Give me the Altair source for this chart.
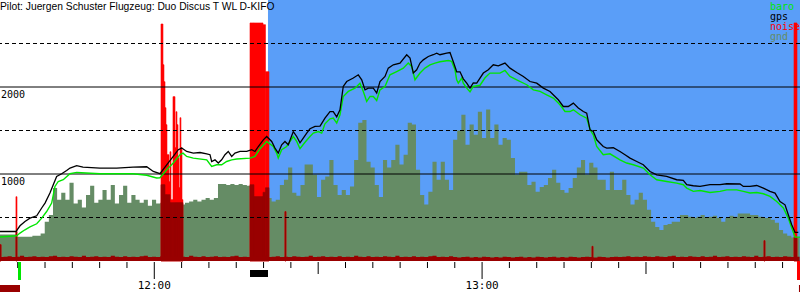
import altair as alt
import pandas as pd

TITLE = "Pilot: Juergen Schuster Flugzeug: Duo Discus T WL D-KIFO"

BLUE = "#5a9ef8"
GND = "#658c65"
RED = "#ff0000"
DARK_RED = "#990000"
GREEN = "#00e600"
BLACK = "#000000"

# time axis: minutes after 11:00
X_DOMAIN = [31.76, 178.19]
Y_DOMAIN = [0, 3000]

gps_t = [31.75, 34.68, 35.42, 36.33, 37.25, 38.48, 39.39, 40.00, 40.90, 41.51,
         42.13, 43.05, 43.96, 44.57, 45.80, 46.95, 50.06, 53.12, 56.11, 58.61,
         59.82, 61.04, 62.27, 63.47, 64.39, 65.02, 65.93, 67.14, 68.37, 69.60,
         70.20, 70.50, 71.11, 71.71, 72.33, 72.94, 73.54, 74.17, 74.77, 75.69,
         76.92, 77.83, 78.43, 79.04, 79.96, 80.57, 81.49, 82.09, 82.69, 83.32,
         83.92, 84.53, 85.44, 86.07, 86.67, 87.27, 87.90, 88.50, 89.42, 90.34,
         91.24, 92.16, 92.76, 93.39, 93.99, 94.59, 95.22, 96.43, 97.34, 97.97,
         98.57, 99.17, 100.09, 100.71, 101.31, 102.23, 102.83, 103.75, 104.97, 106.20,
         106.81, 107.41, 108.03, 108.64, 109.24, 110.16, 111.07, 111.69, 112.29, 113.52,
         114.13, 114.73, 115.35, 115.96, 116.56, 117.19, 117.79, 118.39, 119.02, 120.23,
         121.14, 122.05, 122.96, 124.19, 125.11, 126.34, 127.55, 128.77, 130.00, 131.21,
         132.43, 133.95, 134.86, 135.78, 136.70, 137.61, 138.53, 139.15, 139.76, 140.36,
         140.98, 142.18, 142.81, 144.02, 145.24, 146.16, 147.08, 148.31, 149.51, 150.74,
         151.96, 153.79, 155.62, 156.83, 157.46, 158.66, 159.89, 161.72, 163.55, 164.78,
         167.21, 167.82, 169.04, 170.27, 171.48, 172.70, 173.62, 174.53, 175.45, 176.05,
         176.68, 177.28, 177.88]
gps_alt = [339, 339, 405, 455, 493, 520, 609, 666, 781, 877,
           972, 1003, 1041, 1068, 1095, 1079, 1068, 1068, 1079, 1083,
           1029, 1003, 1106, 1202, 1279, 1298, 1259, 1240, 1247, 1232,
           1222, 1144, 1163, 1126, 1163, 1222, 1259, 1202, 1240, 1259,
           1259, 1279, 1259, 1316, 1393, 1431, 1374, 1298, 1240, 1336,
           1374, 1336, 1488, 1431, 1359, 1413, 1470, 1520, 1547, 1550,
           1642, 1718, 1718, 1657, 1738, 2006, 2063, 2103, 2140, 2083,
           1967, 1987, 1987, 1930, 2063, 2121, 2217, 2255, 2275, 2371,
           2332, 2160, 2198, 2275, 2312, 2351, 2371, 2389, 2371, 2389,
           2396, 2290, 2175, 2175, 2094, 2044, 1987, 2048, 2044, 2160,
           2198, 2255, 2244, 2275, 2217, 2167, 2121, 2063, 2044, 1987,
           1949, 1853, 1776, 1776, 1815, 1758, 1718, 1700, 1508, 1488,
           1393, 1316, 1298, 1302, 1259, 1222, 1183, 1144, 1106, 1029,
           991, 972, 934, 926, 877, 865, 857, 877, 877, 888,
           885, 857, 857, 868, 838, 800, 781, 684, 646, 532,
           416, 328, 328]

baro_t = [31.75, 34.81, 35.42, 36.33, 37.25, 38.48, 39.39, 40.30, 41.22, 41.82,
          42.42, 43.34, 44.57, 45.80, 50.06, 56.11, 58.61, 60.43, 61.04, 62.27,
          63.47, 64.70, 65.26, 65.93, 67.14, 69.60, 70.50, 71.42, 72.33, 73.25,
          74.17, 75.08, 77.52, 78.43, 79.35, 80.57, 81.78, 82.40, 82.69, 83.32,
          84.23, 85.44, 86.07, 86.67, 87.59, 88.50, 89.11, 90.02, 90.64, 91.24,
          92.16, 92.76, 93.39, 93.99, 94.59, 95.51, 96.74, 97.65, 98.26, 98.88,
          99.49, 100.09, 100.71, 101.31, 102.23, 103.14, 104.37, 105.58, 106.49, 107.12,
          107.72, 108.64, 109.55, 110.47, 111.38, 112.29, 113.81, 114.44, 115.04, 115.35,
          115.65, 116.27, 116.56, 117.19, 117.79, 118.39, 119.62, 120.54, 121.44, 123.28,
          124.19, 125.11, 126.34, 128.17, 129.38, 130.61, 131.82, 133.03, 134.26, 135.18,
          136.09, 136.70, 137.93, 139.15, 139.76, 140.36, 140.98, 142.18, 143.41, 145.24,
          146.47, 147.68, 149.51, 150.74, 151.96, 153.79, 155.62, 156.83, 157.46, 158.66,
          159.89, 161.72, 163.55, 164.78, 166.61, 167.82, 169.04, 170.27, 171.48, 172.70,
          173.93, 175.14, 176.05, 176.68, 177.28, 178.19]
baro_alt = [275, 290, 321, 359, 391, 428, 493, 569, 666, 857,
            914, 934, 1003, 1018, 1003, 1003, 985, 954, 957, 1049,
            1126, 1222, 1240, 1202, 1183, 1163, 1086, 1106, 1106, 1144,
            1163, 1172, 1183, 1202, 1290, 1374, 1316, 1240, 1183, 1279,
            1316, 1431, 1374, 1290, 1365, 1431, 1470, 1488, 1470, 1577,
            1634, 1642, 1585, 1681, 1891, 1949, 1987, 2044, 1949, 1833,
            1891, 1891, 1845, 1967, 2006, 2140, 2178, 2217, 2275, 2235,
            2083, 2160, 2217, 2255, 2275, 2290, 2304, 2294, 2198, 2083,
            2044, 2103, 2044, 1987, 1945, 2006, 2020, 2106, 2160, 2160,
            2190, 2121, 2083, 2026, 1967, 1949, 1910, 1873, 1796, 1718,
            1718, 1738, 1681, 1642, 1508, 1451, 1316, 1222, 1232, 1163,
            1126, 1106, 1068, 991, 934, 914, 895, 877, 838, 800,
            810, 788, 800, 818, 818, 800, 781, 788, 773, 742,
            684, 609, 493, 379, 275, 275]

# ground elevation and noise baseline sampled every 45.3 s
GND_T0 = 31.645
GND_DT = 0.755
gnd_alt = [305, 305, 305, 305, 280, 280, 280, 280, 290, 290,
           315, 450, 530, 840, 705, 785, 705, 900, 660, 705,
           615, 760, 865, 670, 705, 815, 705, 875, 660, 760,
           865, 670, 760, 705, 670, 705, 635, 705, 660, 670,
           670, 660, 660, 660, 650, 670, 685, 705, 685, 705,
           725, 705, 725, 885, 885, 875, 885, 875, 885, 875,
           865, 670, 670, 670, 670, 725, 685, 705, 875, 935,
           1075, 785, 750, 875, 1110, 1110, 990, 735, 935, 970,
           1160, 875, 760, 815, 760, 855, 1160, 1590, 1620, 1140,
           1075, 875, 735, 1160, 1075, 1160, 1335, 1110, 1220, 1590,
           1570, 1050, 760, 650, 795, 1140, 935, 1140, 935, 815,
           1395, 1500, 1680, 1335, 1570, 1450, 1715, 1415, 1740, 1415,
           1570, 1335, 1415, 1395, 1185, 990, 1025, 1025, 875, 910,
           795, 850, 875, 955, 1050, 900, 815, 785, 840, 955,
           1075, 1160, 990, 1130, 1075, 935, 935, 815, 1025, 815,
           815, 935, 760, 650, 705, 785, 705, 590, 450, 390,
           355, 415, 425, 450, 450, 530, 530, 510, 495, 510,
           530, 495, 510, 520, 495, 450, 495, 520, 510, 545,
           545, 545, 530, 530, 510, 495, 495, 475, 440, 355,
           315, 290, 270, 270]
noise_base = [45, 50, 55, 45, 50, 60, 45, 50, 55, 45,
              50, 45, 55, 60, 45, 50, 45, 55, 50, 45,
              60, 45, 50, 55, 45, 50, 45, 60, 50, 45,
              55, 45, 50, 45, 55, 60, 45, 50, 45, 55,
              50, 45, 55, 45, 50, 45, 60, 50, 45, 55,
              45, 50, 55, 45, 50, 45, 55, 60, 45, 50,
              45, 55, 50, 45, 60, 45, 50, 55, 45, 50,
              45, 55, 50, 45, 50, 60, 45, 50, 55, 45,
              50, 45, 55, 45, 50, 45, 60, 50, 45, 55,
              45, 50, 45, 55, 50, 45, 60, 45, 50, 45,
              55, 45, 50, 45, 55, 60, 45, 50, 45, 55,
              45, 40, 45, 50, 40, 45, 40, 50, 45, 40,
              45, 40, 50, 45, 40, 45, 50, 40, 45, 40,
              50, 45, 40, 45, 50, 40, 45, 40, 50, 45,
              40, 45, 50, 45, 40, 50, 45, 40, 45, 50,
              45, 50, 55, 45, 50, 45, 55, 50, 45, 55,
              50, 45, 55, 60, 45, 50, 45, 55, 50, 45,
              55, 45, 50, 60, 45, 50, 55, 45, 50, 45,
              55, 50, 45, 60, 45, 50, 55, 45, 50, 45,
              55, 50, 45, 50]

# noise bursts (engine runs and single spikes)
noise_t0 = [31.76, 34.68, 61.23, 61.59, 61.77, 61.96, 62.14, 62.32, 62.69, 62.87,
            63.06, 63.42, 63.79, 63.97, 64.15, 64.34, 64.52, 64.70, 64.88, 65.07,
            77.52, 78.25, 79.90, 80.35, 83.92, 140.12, 171.60, 177.09]
noise_t1 = [31.95, 34.87, 61.59, 61.77, 61.96, 62.14, 62.32, 62.69, 62.87, 63.06,
            63.42, 63.79, 63.97, 64.15, 64.34, 64.52, 64.70, 64.88, 65.07, 65.25,
            78.25, 79.90, 80.35, 80.99, 84.10, 140.30, 171.78, 177.64]
noise_peak = [187, 739, 2724, 2256, 2061, 1762, 1567, 1222, 911, 1256,
              705, 1889, 1302, 1716, 1567, 1187, 843, 1647, 1302, 705,
              2736, 2736, 2716, 2176, 567, 168, 233, 2736]
noise_dark = [187, 337, 877, 877, 877, 762, 762, 762, 762, 670,
              670, 670, 670, 670, 670, 670, 670, 670, 670, 670,
              877, 740, 790, 842, 567, 168, 233, 270]

band_t0, band_t1 = [80.81], [178.19]
takeoff_t0, takeoff_t1 = [35.05], [35.60]
landing_t0, landing_t1 = [177.64], [178.19]
engine_t0, engine_t1 = [77.52], [80.81]
flight_bar_t0, flight_bar_t1 = [31.76, 178.00], [35.42, 178.19]

grid_solid = [1000, 2000]
grid_dashed = [500, 1500, 2500]
y_label_vals = [1000, 2000]
y_label_text = ["1000", "2000"]
tick_5min = [m for m in range(35, 176, 5) if m % 30 != 0]
tick_half = [90, 150]
tick_hour = [60, 120]
hour_labels = ["12:00", "13:00"]
legend_names = ["baro", "gps", "noise", "gnd"]
legend_colors = [GREEN, BLACK, RED, GND]

xs = alt.Scale(domain=X_DOMAIN, nice=False, zero=False)
ys = alt.Scale(domain=Y_DOMAIN, nice=False, zero=False)


def X(f):
    return alt.X(f, scale=xs, axis=None)


def Y(f):
    return alt.Y(f, scale=ys, axis=None)


gnd_times = [GND_T0 + i * GND_DT for i in range(len(gnd_alt))]
gnd_df = pd.DataFrame({
    "t": gnd_times + [GND_T0 + len(gnd_alt) * GND_DT],
    "gnd": gnd_alt + [gnd_alt[-1]],
    "noise": noise_base + [noise_base[-1]],
})
gps_df = pd.DataFrame({"t": gps_t, "alt": gps_alt})
baro_df = pd.DataFrame({"t": baro_t, "alt": baro_alt})
noise_df = pd.DataFrame({"t0": noise_t0, "t1": noise_t1, "peak": noise_peak, "dark": noise_dark})

band = alt.Chart(pd.DataFrame({"t0": band_t0, "t1": band_t1})).mark_rect(color=BLUE).encode(
    x=X("t0:Q"), x2="t1:Q", y=alt.YDatum(3000, scale=ys, axis=None), y2=alt.Y2Datum(0))

gnd = alt.Chart(gnd_df).mark_area(interpolate="step-after", color=GND).encode(
    x=X("t:Q"), y=Y("gnd:Q"))

noise_low = alt.Chart(gnd_df).mark_area(interpolate="step-after", color=DARK_RED).encode(
    x=X("t:Q"), y=Y("noise:Q"))

noise_hi = alt.Chart(noise_df).mark_rect(color=RED, stroke=RED, strokeWidth=0.6).encode(
    x=X("t0:Q"), x2="t1:Q", y=Y("peak:Q"), y2=alt.Y2Datum(0))
noise_dk = alt.Chart(noise_df).mark_rect(color=DARK_RED, stroke=DARK_RED, strokeWidth=0.6).encode(
    x=X("t0:Q"), x2="t1:Q", y=Y("dark:Q"), y2=alt.Y2Datum(0))

grid_s = alt.Chart(pd.DataFrame({"v": grid_solid})).mark_rule(color=BLACK, strokeWidth=1).encode(
    y=Y("v:Q"))
grid_d = alt.Chart(pd.DataFrame({"v": grid_dashed})).mark_rule(
    color=BLACK, strokeWidth=1, strokeDash=[4, 3]).encode(y=Y("v:Q"))

baro = alt.Chart(baro_df).mark_line(color=GREEN, strokeWidth=1.4).encode(
    x=X("t:Q"), y=Y("alt:Q"), order="t:Q")
gps = alt.Chart(gps_df).mark_line(color=BLACK, strokeWidth=1.3).encode(
    x=X("t:Q"), y=Y("alt:Q"), order="t:Q")

ylab = alt.Chart(pd.DataFrame({"v": y_label_vals, "label": y_label_text})).mark_text(
    align="left", baseline="top", dy=3, font="DejaVu Sans Mono", fontSize=10, color=BLACK
).encode(x=alt.value(1), y=Y("v:Q"), text="label:N")


def ticks(vals, y2):
    return alt.Chart(pd.DataFrame({"t": vals})).mark_rule(color=BLACK, strokeWidth=1).encode(
        x=X("t:Q"), y=alt.value(262), y2=alt.value(y2))


xlab = alt.Chart(pd.DataFrame({"t": tick_hour, "label": hour_labels})).mark_text(
    align="center", baseline="top", font="DejaVu Sans Mono", fontSize=11, color=BLACK
).encode(x=X("t:Q"), y=alt.value(280), text="label:N")


def marker(t0, t1, color, ya, yb):
    return alt.Chart(pd.DataFrame({"t0": t0, "t1": t1})).mark_rect(color=color).encode(
        x=X("t0:Q"), x2="t1:Q", y=alt.value(ya), y2=alt.value(yb))


title = alt.Chart(pd.DataFrame({"text": [TITLE]})).mark_text(
    align="left", baseline="alphabetic", font="Liberation Sans", fontSize=10.3, color=BLACK
).encode(x=alt.value(0), y=alt.value(9.5), text="text:N")

legend = alt.Chart(pd.DataFrame({"name": legend_names})).transform_window(
    idx="row_number()"
).transform_calculate(py="10 * datum.idx").mark_text(
    align="left", baseline="alphabetic", font="DejaVu Sans Mono", fontSize=10
).encode(
    x=alt.value(770), y=alt.Y("py:Q", scale=None, axis=None), text="name:N",
    color=alt.Color("name:N", scale=alt.Scale(domain=legend_names, range=legend_colors), legend=None),
)

chart = alt.layer(
    band, gnd, noise_hi, noise_dk, noise_low, grid_s, grid_d, baro, gps, ylab,
    ticks(tick_5min, 268), ticks(tick_half, 274), ticks(tick_hour, 279), xlab,
    marker(takeoff_t0, takeoff_t1, GREEN, 262, 280),
    marker(landing_t0, landing_t1, RED, 261, 280),
    marker(engine_t0, engine_t1, BLACK, 270, 277),
    marker(flight_bar_t0, flight_bar_t1, DARK_RED, 285, 292),
    title, legend,
).properties(
    width=800, height=261,
    autosize=alt.AutoSizeParams(type="none"),
    padding={"left": 0, "right": 0, "top": 0, "bottom": 39},
).configure_view(stroke=None)

chart.save("out.html", embed_options={"renderer": "svg", "actions": False})
